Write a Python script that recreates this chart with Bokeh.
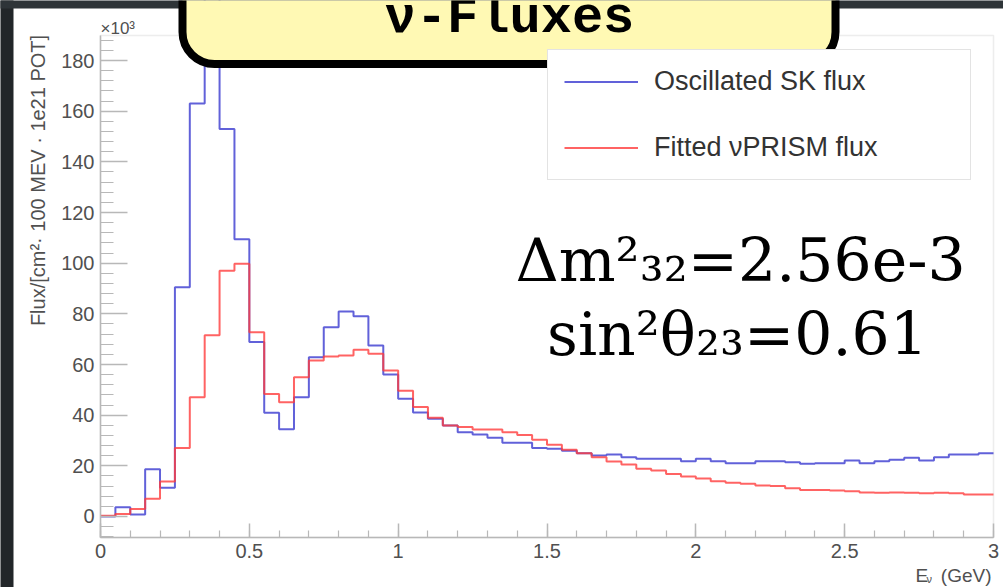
import math
from bokeh.plotting import figure
from bokeh.models import FixedTicker, Label, BoxAnnotation, Legend, LegendItem
from bokeh.embed import file_html
from bokeh.resources import INLINE

# ---------------- data (flux in units of 10^3) ----------------
bin_edges = [0.00, 0.05, 0.10, 0.15, 0.20, 0.25, 0.30, 0.35, 0.40, 0.45,
             0.50, 0.55, 0.60, 0.65, 0.70, 0.75, 0.80, 0.85, 0.90, 0.95,
             1.00, 1.05, 1.10, 1.15, 1.20, 1.25, 1.30, 1.35, 1.40, 1.45,
             1.50, 1.55, 1.60, 1.65, 1.70, 1.75, 1.80, 1.85, 1.90, 1.95,
             2.00, 2.05, 2.10, 2.15, 2.20, 2.25, 2.30, 2.35, 2.40, 2.45,
             2.50, 2.55, 2.60, 2.65, 2.70, 2.75, 2.80, 2.85, 2.90, 2.95,
             3.00]

sk_flux = [0.0, 3.7, 0.8, 18.7, 11.3, 90.5, 163.0, 215.0, 153.0, 109.4,
           68.9, 41.0, 34.4, 47.1, 62.9, 74.7, 80.9, 79.0, 67.5, 56.1,
           46.5, 41.1, 38.6, 35.9, 33.3, 32.4, 31.1, 29.1, 29.1, 27.0,
           26.7, 26.0, 25.0, 24.1, 24.5, 23.4, 22.8, 22.8, 22.8, 21.8,
           22.8, 21.8, 21.0, 21.0, 21.8, 21.8, 21.4, 20.8, 21.0, 21.0,
           22.1, 21.0, 21.8, 22.4, 23.2, 22.1, 23.4, 24.5, 24.5, 25.0]

prism_flux = [0.3, 1.0, 3.0, 7.0, 13.8, 27.0, 47.1, 71.5, 97.0, 99.8,
              72.7, 48.4, 45.1, 55.0, 61.6, 63.2, 63.6, 65.8, 64.2, 57.6,
              49.6, 43.2, 39.0, 35.9, 35.3, 34.3, 34.3, 33.3, 32.2, 30.3,
              28.3, 26.3, 25.0, 23.4, 21.7, 20.5, 18.8, 18.2, 16.8, 15.8,
              15.0, 13.9, 13.3, 12.9, 12.2, 12.0, 11.2, 10.5, 10.5, 10.3,
              10.0, 9.5, 9.4, 9.5, 9.4, 9.2, 9.4, 9.2, 8.7, 8.7]

series_names = ["Oscillated SK flux", "Fitted \u03bdPRISM flux"]

x_ticks = [0, 0.5, 1, 1.5, 2, 2.5, 3]
x_tick_labels = ["0", "0.5", "1", "1.5", "2", "2.5", "3"]
x_minor_ticks = [0.0, 0.1, 0.2, 0.3, 0.4, 0.5, 0.6, 0.7, 0.8, 0.9, 1.0,
                 1.1, 1.2, 1.3, 1.4, 1.5, 1.6, 1.7, 1.8, 1.9, 2.0,
                 2.1, 2.2, 2.3, 2.4, 2.5, 2.6, 2.7, 2.8, 2.9, 3.0]
y_ticks = [0, 20, 40, 60, 80, 100, 120, 140, 160, 180]
y_minor_ticks = [-8, -4, 0, 4, 8, 12, 16, 20, 24, 28, 32, 36, 40, 44, 48, 52, 56,
                 60, 64, 68, 72, 76, 80, 84, 88, 92, 96, 100, 104, 108, 112, 116,
                 120, 124, 128, 132, 136, 140, 144, 148, 152, 156, 160, 164, 168,
                 172, 176, 180, 184, 188]

title_text = "\u03bd-Fluxes"
param_lines = ["\u0394m\u00b2\u2083\u2082=2.56e-3", "sin\u00b2\u03b8\u2082\u2083=0.61"]
y_label = "Flux/[cm\u00b2\u00b7 100 MEV \u00b7 1e21 POT]"

# ---------------- geometry ----------------
W, H = 1003, 587
# histogram frame (data) and where it sits on the picture
FX0, FX1 = 0.0, 3.0
FY0, FY1 = -8.29, 189.87
PL, PR, PT, PB = 100, 993, 35, 537
kx = (FX1 - FX0) / (PR - PL)
ky = (FY1 - FY0) / (PB - PT)
x_range = (FX0 - PL * kx, FX1 + (W - PR) * kx)
y_range = (FY0 - (H - PB) * ky, FY1 + PT * ky)

p = figure(width=W, height=H, x_range=x_range, y_range=y_range,
           output_backend="svg", toolbar_location=None,
           min_border_left=0, min_border_right=0, min_border_top=0, min_border_bottom=0)
p.title.visible = False
p.background_fill_color = "white"
p.border_fill_color = "white"
p.outline_line_color = None
p.outline_line_alpha = 0.0
p.outline_line_width = 0
p.grid.visible = False


# picture pixel -> screen units of the (full canvas) frame
def sx(px):
    return px


def sy(py):
    return H - py


S = dict(left_units="screen", right_units="screen", top_units="screen", bottom_units="screen")
LS = dict(x_units="screen", y_units="screen")

# dark slide background strips (left and top)
p.add_layout(BoxAnnotation(left=sx(-20), right=sx(13), bottom=sy(620), top=sy(-20),
                           fill_color="#222629", fill_alpha=1.0, line_alpha=0.0, **S))
p.add_layout(BoxAnnotation(left=sx(-20), right=sx(1020), bottom=sy(8), top=sy(-20),
                           fill_color="#2e3438", fill_alpha=1.0, line_alpha=0.0, **S))

# histogram frame box (ROOT pad frame)
ax_col = "#b8b8b8"
p.add_layout(BoxAnnotation(left=FX0, right=FX1, bottom=FY0, top=FY1, fill_alpha=0.0,
                           line_color="#c4c4c4", line_width=1.5, level="underlay"))

# axes placed at the frame edges
lab_col = "#505050"
for ax in (p.xaxis[0], p.yaxis[0]):
    ax.axis_line_color = ax_col
    ax.axis_line_width = 1.5
    ax.major_tick_line_color = ax_col
    ax.minor_tick_line_color = ax_col
    ax.major_tick_line_width = 1.5
    ax.minor_tick_line_width = 1.2
    ax.major_tick_out = 0
    ax.minor_tick_out = 0
    ax.major_label_text_font = "Liberation Sans"
    ax.major_label_text_font_size = "20px"
    ax.major_label_text_color = lab_col
    ax.major_label_standoff = 6

p.xaxis.ticker = FixedTicker(ticks=x_ticks, minor_ticks=x_minor_ticks)
p.xaxis.major_label_overrides = {t: s for t, s in zip(x_ticks, x_tick_labels)}
p.xaxis.major_tick_in = 14
p.xaxis.minor_tick_in = 7
p.xaxis.fixed_location = FY0
p.xaxis.bounds = (FX0, FX1)

p.yaxis.ticker = FixedTicker(ticks=y_ticks, minor_ticks=y_minor_ticks)
p.yaxis.major_tick_in = 27
p.yaxis.minor_tick_in = 13
p.yaxis.fixed_location = FX0
p.yaxis.bounds = (FY0, FY1)

# histograms
r_sk = p.step(x=bin_edges, y=sk_flux + [sk_flux[-1]], mode="after",
              line_color="#3a3ad0", line_width=2, line_alpha=0.8)
r_pr = p.step(x=bin_edges, y=prism_flux + [prism_flux[-1]], mode="after",
              line_color="#ff3c3c", line_width=2, line_alpha=0.8)

# legend
legend = Legend(items=[LegendItem(label=series_names[0], renderers=[r_sk]),
                       LegendItem(label=series_names[1], renderers=[r_pr])],
                location=(sx(547), sy(180)), orientation="vertical",
                glyph_width=74, glyph_height=31, label_height=31, label_width=300,
                label_standoff=16, padding=16, spacing=35, margin=0,
                border_line_color="#c8c8c8", border_line_width=1.5,
                background_fill_color="white", background_fill_alpha=1.0,
                label_text_font="Liberation Sans", label_text_font_size="27px",
                label_text_color="#333333")
p.add_layout(legend)

# oscillation parameters
p.add_layout(Label(x=sx(740), y=sy(259), text=param_lines[0], text_font="DejaVu Serif",
                   text_font_size="60px", text_align="center", text_baseline="alphabetic",
                   text_color="black", **LS))
p.add_layout(Label(x=sx(737), y=sy(333), text=param_lines[1], text_font="DejaVu Serif",
                   text_font_size="60px", text_align="center", text_baseline="alphabetic",
                   text_color="black", **LS))

# axis titles and multiplier
p.add_layout(Label(x=sx(37), y=sy(180), text=y_label, angle=math.pi / 2,
                   text_font="Liberation Sans", text_font_size="20px", text_color=lab_col,
                   text_align="center", text_baseline="middle", **LS))
p.add_layout(Label(x=sx(100), y=sy(28), text="\u00d710\u00b3", text_font="Liberation Sans",
                   text_font_size="17px", text_color=lab_col, text_align="left",
                   text_baseline="alphabetic", **LS))
p.add_layout(Label(x=sx(915), y=sy(575), text="E", text_font="Liberation Sans",
                   text_font_size="19px", text_color=lab_col, text_align="left",
                   text_baseline="alphabetic", **LS))
p.add_layout(Label(x=sx(926), y=sy(578), text="\u03bd", text_font="Liberation Sans",
                   text_font_size="11px", text_color=lab_col, text_align="left",
                   text_baseline="alphabetic", **LS))
p.add_layout(Label(x=sx(991), y=sy(575), text="(GeV)", text_font="Liberation Sans",
                   text_font_size="19px", text_color=lab_col, text_align="right",
                   text_baseline="alphabetic", **LS))

# slide title box
p.add_layout(BoxAnnotation(left=sx(182), right=sx(835), bottom=sy(63.5), top=sy(-60),
                           fill_color="#fff9b4", fill_alpha=1.0, line_color="black",
                           line_width=8, line_alpha=1.0, border_radius=32,
                           level="overlay", **S))
p.add_layout(Label(x=sx(509), y=sy(18), text=title_text, text_font="Liberation Mono",
                   text_font_size="52px", text_font_style="bold", text_align="center",
                   text_baseline="alphabetic", text_color="black", level="overlay", **LS))

open("out.html", "w").write(file_html(p, INLINE))
